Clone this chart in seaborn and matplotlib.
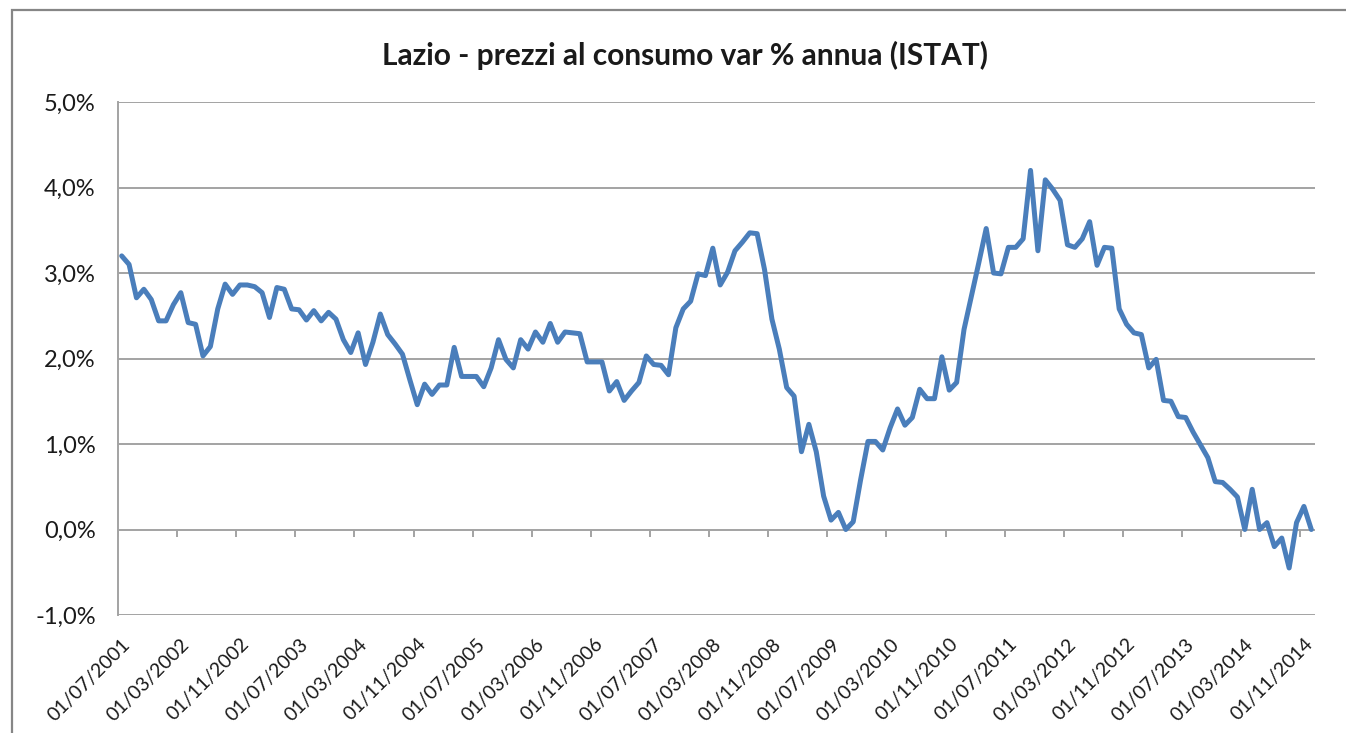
import pandas as pd
import numpy as np
import matplotlib
matplotlib.use("Agg")
import matplotlib.pyplot as plt
import matplotlib.transforms as mtransforms
import seaborn as sns
from matplotlib.ticker import FuncFormatter
from matplotlib.patches import Rectangle

# monthly series, 07/2001 - 12/2014 (var % annua)
months = pd.date_range("2001-07-01", periods=162, freq="MS")
inflation = [
    3.20, 3.10, 2.71, 2.81, 2.69, 2.44, 2.44, 2.63, 2.77, 2.42,
    2.40, 2.03, 2.14, 2.58, 2.87, 2.75, 2.86, 2.86, 2.84, 2.77,
    2.48, 2.83, 2.81, 2.58, 2.57, 2.45, 2.56, 2.44, 2.54, 2.46,
    2.22, 2.07, 2.30, 1.93, 2.19, 2.52, 2.28, 2.17, 2.05, 1.75,
    1.46, 1.70, 1.58, 1.69, 1.69, 2.13, 1.79, 1.79, 1.79, 1.67,
    1.89, 2.22, 1.99, 1.89, 2.22, 2.11, 2.31, 2.19, 2.41, 2.19,
    2.31, 2.30, 2.29, 1.96, 1.96, 1.96, 1.62, 1.73, 1.51, 1.62,
    1.72, 2.03, 1.93, 1.92, 1.81, 2.36, 2.58, 2.67, 2.99, 2.97,
    3.29, 2.86, 3.01, 3.26, 3.36, 3.47, 3.46, 3.04, 2.46, 2.11,
    1.66, 1.56, 0.91, 1.23, 0.91, 0.39, 0.11, 0.20, 0.00, 0.09,
    0.58, 1.03, 1.03, 0.93, 1.19, 1.41, 1.22, 1.31, 1.64, 1.53,
    1.53, 2.02, 1.63, 1.72, 2.34, 2.73, 3.12, 3.52, 3.00, 2.99,
    3.30, 3.30, 3.40, 4.20, 3.26, 4.09, 3.98, 3.85, 3.33, 3.30,
    3.40, 3.60, 3.09, 3.30, 3.29, 2.58, 2.40, 2.30, 2.28, 1.89,
    1.99, 1.51, 1.50, 1.32, 1.31, 1.14, 0.99, 0.84, 0.56, 0.55,
    0.47, 0.38, 0.00, 0.47, 0.00, 0.08, -0.20, -0.10, -0.45, 0.08,
    0.27, 0.00,
]
tick_labels = [
    "01/07/2001", "01/03/2002", "01/11/2002", "01/07/2003", "01/03/2004",
    "01/11/2004", "01/07/2005", "01/03/2006", "01/11/2006", "01/07/2007",
    "01/03/2008", "01/11/2008", "01/07/2009", "01/03/2010", "01/11/2010",
    "01/07/2011", "01/03/2012", "01/11/2012", "01/07/2013", "01/03/2014",
    "01/11/2014",
]
y_ticks = [-1, 0, 1, 2, 3, 4, 5]

df = pd.DataFrame({"mese": months, "var": inflation})
df["pos"] = np.arange(len(df))

sns.set_style("white")
plt.rcParams["font.family"] = ["Lato", "DejaVu Sans"]

grid_col = "#a3a3a3"
line_col = "#4a7ebb"

fig = plt.figure(figsize=(13.46, 7.33), dpi=100)
ax = fig.add_axes([118 / 1346, 1 - 615 / 733, (1315 - 118) / 1346, (615 - 102) / 733])

sns.lineplot(data=df, x="pos", y="var", color=line_col, linewidth=3.6, ax=ax)

ax.set_xlim(-0.5, len(df) - 0.5)
ax.set_ylim(-1, 5)

# y axis
ax.set_yticks(y_ticks)
ax.yaxis.set_major_formatter(FuncFormatter(lambda v, p: f"{v:.1f}%".replace(".", ",")))
for v in y_ticks:
    ax.axhline(v, color=grid_col, lw=1.4, zorder=0)
ax.tick_params(axis="y", length=8, width=1.2, color=grid_col, labelsize=17,
               labelcolor="#1a1a1a", pad=8)

# x axis: labels at bottom, tick marks on the zero line
tick_pos = np.arange(len(tick_labels)) * 8
ax.set_xticks(tick_pos)
ax.set_xticklabels(tick_labels, rotation=45, ha="right", va="center",
                   rotation_mode="anchor")
ax.tick_params(axis="x", length=0, labelsize=14, labelcolor="#1a1a1a", pad=19)
shift = mtransforms.ScaledTranslation(6 / 100, 0, fig.dpi_scale_trans)
for lab in ax.get_xticklabels():
    lab.set_transform(lab.get_transform() + shift)
ax.vlines(tick_pos - 0.5, -0.085, 0, color=grid_col, lw=1.4, zorder=0)

for s in ["top", "right", "bottom"]:
    ax.spines[s].set_visible(False)
ax.spines["left"].set_color(grid_col)
ax.spines["left"].set_linewidth(1.4)
ax.set_xlabel("")
ax.set_ylabel("")

fig.text(685 / 1346, 1 - 55 / 733, "Lazio - prezzi al consumo var % annua (ISTAT)",
         ha="center", va="center", fontsize=21.5, fontweight="bold", color="#1a1a1a")

# chart frame
fig.patches.append(Rectangle((12 / 1346, -0.1), 1.1, 1.1 - 10 / 733, transform=fig.transFigure,
                             fill=False, edgecolor="#868686", lw=1.6))

fig.savefig("out.png", dpi=100)
